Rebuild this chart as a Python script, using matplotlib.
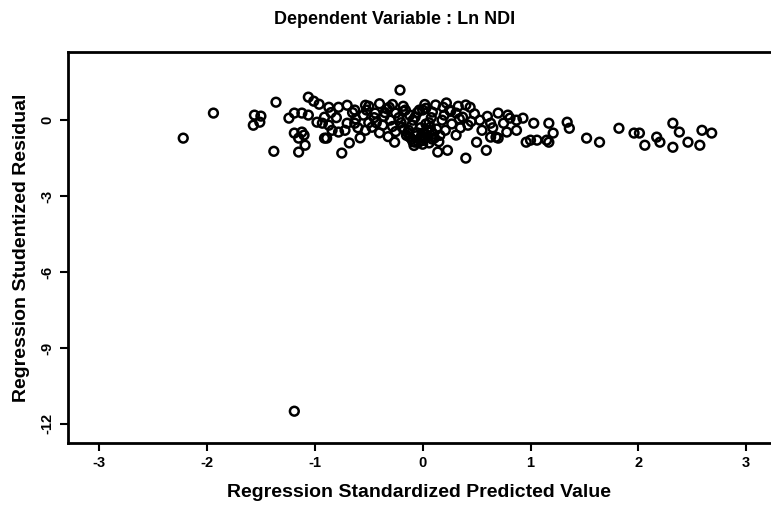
import matplotlib
matplotlib.use('Agg')
import matplotlib.pyplot as plt

# Residuals vs predicted values
pred = [-2.22, -1.94, -1.36, -1.56, -1.50, -1.57, -1.51, -1.38, -1.15, -1.06,
        -1.01, -0.96, -1.24, -1.19, -1.12, -1.06, -0.98, -0.91, -1.19, -1.15,
        -1.12, -1.09, -1.10, -0.91, -0.84, -0.87, -0.78, -0.21, -0.87, -0.70,
        -0.63, -0.53, -0.44, -0.31, -0.25, -0.16, -0.07, 0.00, 0.09, 0.19,
        0.25, 0.31, 0.44, 0.37, 0.53, 0.63, 0.70, -0.89, -0.78, -0.70,
        -0.63, -0.53, -0.47, -0.37, -0.26, -0.19, -0.12, -0.07, 0.00, -0.09,
        0.07, 0.14, 0.23, 0.31, 0.40, 0.50, 0.59, 0.68, -0.75, -0.93,
        0.79, 0.87, 0.93, 1.03, 1.17, 1.21, 1.34, 1.36, 1.17, 1.06,
        0.96, 0.87, 0.78, 0.70, 1.52, 1.64, 1.82, 1.96, 2.06, 2.17,
        2.20, 2.32, 2.38, 2.32, 2.46, 2.57, 2.59, 2.68, 2.01, 0.75,
        0.81, 0.21, 0.63, 1.00, 1.15, -0.03, 0.03,
        -0.15, -0.10, -0.05, 0.00, 0.05, 0.10, -0.02, 0.03, 0.08, -0.12,
        -0.20, -0.30, -0.35, -0.40, -0.45, -0.50, -0.55, -0.60, -0.65, -0.72,
        -0.80, -0.85, 0.12, 0.20, 0.27, 0.35, 0.42, 0.48, 0.55, 0.60,
        0.65, -0.08, 0.00, 0.06, -0.25, 0.15, -0.32, -0.58, -0.68, -0.50,
        -0.40, -0.28, -0.18, 0.02, 0.22, 0.33, 0.40,
        -0.13, -0.06, 0.01, 0.08, -0.17, -0.04, 0.04, 0.11, -0.10, -0.01,
        0.06, -0.22, -0.14, 0.13, 0.18, -0.28, -0.36, -0.43, -0.52, -0.62,
        0.26, 0.34, 0.45, -0.09, 0.02, 0.09, -0.18, -0.05, 0.16, -0.33,
        -1.19]

resid = [-0.71, 0.28, 0.71, 0.20, 0.16, -0.20, -0.08, -1.23, -1.26, 0.91,
         0.75, 0.63, 0.08, 0.28, 0.28, 0.20, -0.08, 0.12, -0.51, -0.71,
         -0.47, -0.99, -0.59, -0.71, -0.40, -0.20, 0.51, 1.19, 0.51, 0.59,
         0.40, 0.59, 0.28, 0.51, 0.28, 0.40, 0.12, 0.40, 0.32, 0.51,
         0.40, 0.28, 0.51, 0.12, 0.00, -0.12, 0.28, -0.71, -0.47, -0.12,
         -0.12, -0.40, -0.28, -0.20, -0.87, -0.28, -0.67, -0.87, -0.51, 0.00,
         -0.28, -1.26, -1.19, -0.59, -1.50, -0.87, -1.19, -0.67, -1.30, -0.12,
         0.20, 0.00, 0.08, -0.12, -0.12, -0.51, -0.08, -0.32, -0.87, -0.79,
         -0.87, -0.40, -0.47, -0.71, -0.71, -0.87, -0.32, -0.51, -0.99, -0.67,
         -0.87, -0.12, -0.47, -1.07, -0.87, -0.99, -0.40, -0.51, -0.51, -0.12,
         0.08, -0.40, -0.67, -0.79, -0.79, 0.40, 0.47,
         -0.60, -0.75, -0.50, -0.80, -0.65, -0.55, -0.30, -0.15, 0.10, 0.20,
         -0.10, 0.00, 0.30, -0.50, 0.10, -0.10, 0.20, -0.30, 0.30, -0.40,
         0.10, 0.30, 0.60, 0.20, -0.15, -0.30, -0.20, 0.25, -0.40, 0.15,
         -0.30, -1.00, -0.95, -0.90, -0.45, -0.85, -0.65, -0.70, -0.90, 0.55,
         0.65, 0.62, 0.55, 0.62, 0.68, 0.55, 0.60,
         -0.40, -0.62, -0.72, -0.45, -0.35, -0.88, -0.40, -0.70, -0.20, -0.60,
         -0.10, 0.10, -0.50, -0.35, 0.00, -0.25, 0.15, -0.10, 0.40, 0.05,
         0.35, 0.05, -0.05, -0.85, -0.70, -0.75, 0.35, 0.30, -0.60, 0.45,
         -11.5]

x_ticks = [-3, -2, -1, 0, 1, 2, 3]
y_ticks = [0, -3, -6, -9, -12]

plt.rcParams['font.family'] = ['Liberation Sans', 'DejaVu Sans']
plt.rcParams['font.weight'] = 'bold'

fig = plt.figure(figsize=(7.71, 5.21), dpi=100)
ax = fig.add_axes([0.088, 0.150, 0.912, 0.750])

ax.scatter(pred, resid, s=40, facecolors='none', edgecolors='black', linewidths=1.8)

ax.set_xlim(-3.29, 3.23)
ax.set_ylim(-12.75, 2.69)
ax.set_xticks(x_ticks)
ax.set_yticks(y_ticks)
ax.set_xticklabels([str(t) for t in x_ticks], fontsize=10.5, fontweight='bold')
ax.set_yticklabels([str(t) for t in y_ticks], fontsize=10.5, fontweight='bold', rotation=90, va='center')
ax.tick_params(direction='out', length=6, width=1.5, colors='black')

ax.spines['right'].set_visible(False)
for side in ['left', 'bottom', 'top']:
    ax.spines[side].set_linewidth(2)

ax.set_xlabel('Regression Standardized Predicted Value', fontsize=14, fontweight='bold', labelpad=10)
ax.set_ylabel('Regression Studentized Residual', fontsize=14, fontweight='bold', labelpad=8)
fig.text(0.512, 0.962, 'Dependent Variable : Ln NDI', ha='center', va='center', fontsize=13, fontweight='bold')

plt.savefig('out.png', dpi=100)
